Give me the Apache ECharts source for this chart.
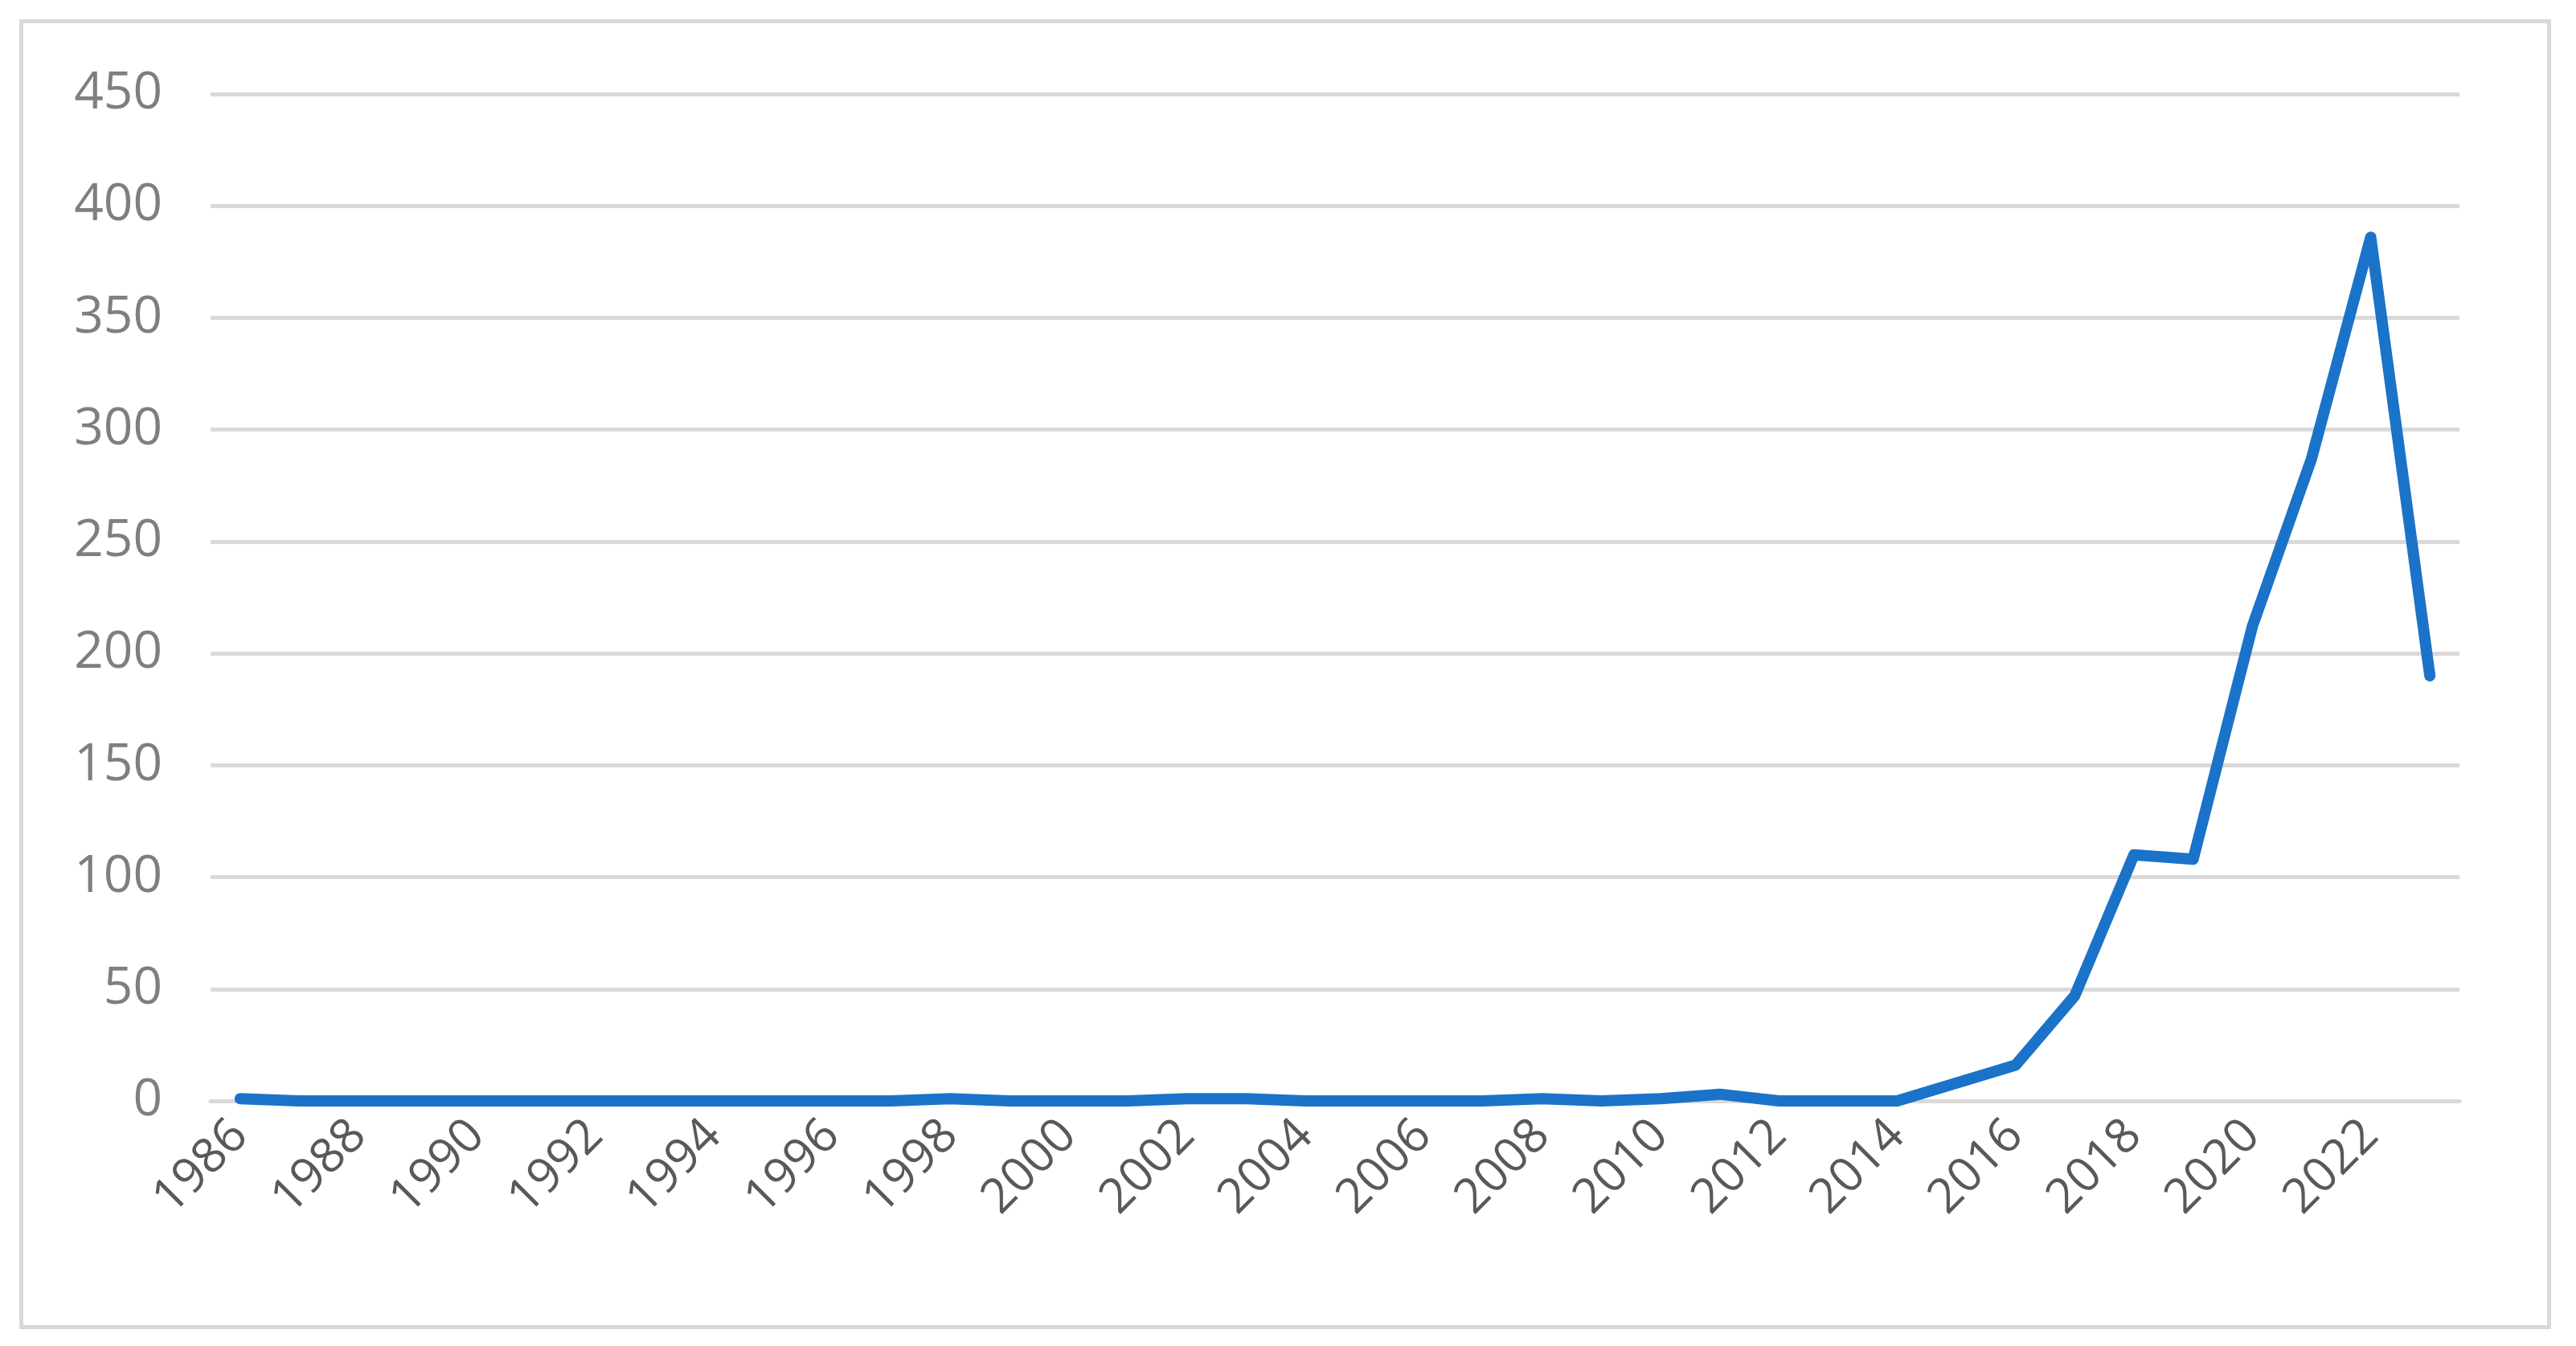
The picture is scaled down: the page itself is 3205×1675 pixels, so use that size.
<!doctype html>
<html>
<head>
<meta charset="utf-8">
<script src="https://cdn.jsdelivr.net/npm/echarts@6/dist/echarts.min.js"></script>
<style>
html,body{margin:0;padding:0;background:#fff;}
#frame{position:absolute;left:24px;top:24px;width:3150px;height:1630px;border:5px solid #d9d9d9;box-sizing:border-box;}
#main{position:absolute;left:0;top:0;width:3205px;height:1675px;}
</style>
</head>
<body>
<div id="frame"></div>
<div id="main"></div>
<script>
var years = [];
for (var y = 1986; y <= 2023; y++) years.push(String(y));
var counts = [1,0,0,0,0,0,0,0,0,0,0,0,1,0,0,0,1,1,0,0,0,0,1,0,1,3,0,0,0,8,16,47,110,108,212,287,386,190];

var chart = echarts.init(document.getElementById('main'));
var seriesData = counts.map(function (v, i) {
    var d = { value: v };
    if (years[i] === '2019') d.label = { distance: 105 };
    if (years[i] === '2021') d.label = { offset: [-22, 0] };
    if (years[i] === '2023') d.label = { offset: [12, 0] };
    return d;
});

chart.setOption({
    animation: false,
    grid: { left: 262, right: 145, top: 117, bottom: 305 },
    xAxis: {
        type: 'category',
        data: years,
        boundaryGap: true,
        axisLine: { lineStyle: { color: '#d9d9d9', width: 5 } },
        axisTick: { show: false },
        axisLabel: {
            interval: 1, rotate: 45, color: '#595959',
            fontFamily: 'Open Sans', fontSize: 60, margin: 34
        }
    },
    yAxis: {
        type: 'value', min: 0, max: 450, interval: 50,
        axisLine: { show: false },
        axisTick: { show: false },
        splitLine: { lineStyle: { color: '#d9d9d9', width: 5 } },
        axisLabel: { color: '#7f7f7f', fontFamily: 'Open Sans', fontSize: 64, margin: 60 }
    },
    series: [{
        type: 'line',
        data: seriesData,
        symbol: 'circle',
        symbolSize: 1,
        showSymbol: true,
        lineStyle: { color: '#1a73c8', width: 14, cap: 'round', join: 'round' },
        itemStyle: { color: '#1a73c8', opacity: 0 },
        label: {
            show: true, position: 'top', distance: 62,
            color: '#595959', fontFamily: 'Open Sans', fontSize: 62
        }
    }]
});
</script>
</body>
</html>
